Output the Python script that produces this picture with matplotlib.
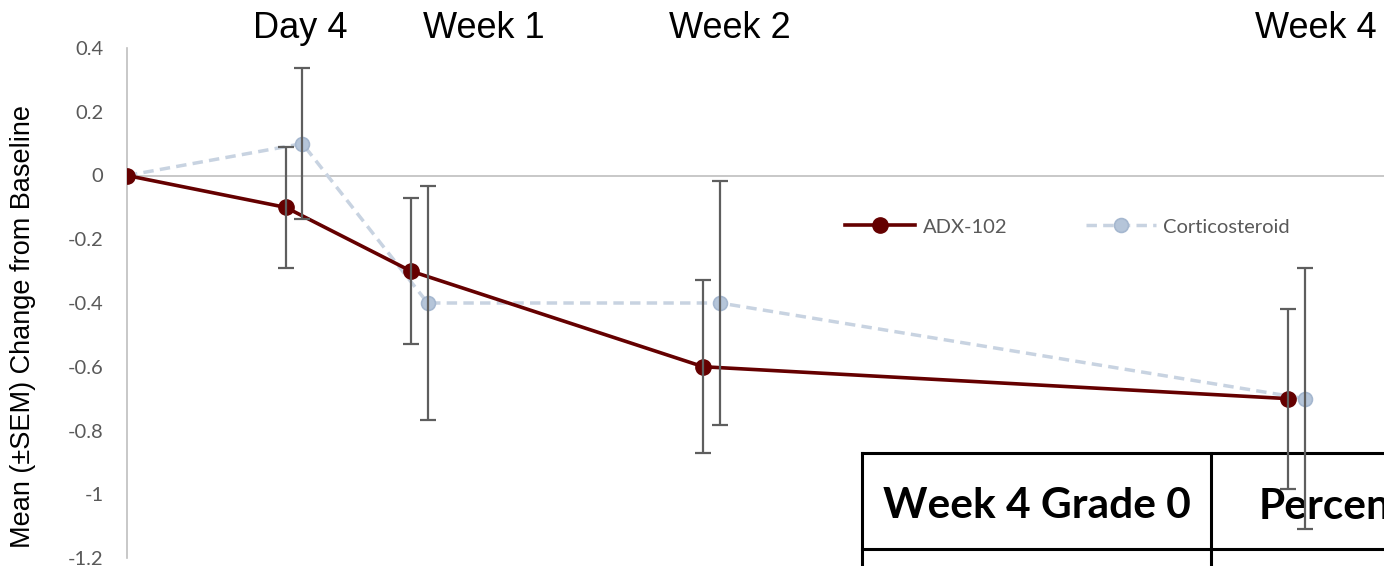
import matplotlib
matplotlib.use('Agg')
import matplotlib.pyplot as plt
import matplotlib.transforms as mtransforms
import numpy as np
from matplotlib.lines import Line2D

# ---- data ----
visit_labels = ['Day 4', 'Week 1', 'Week 2', 'Week 4']
visit_label_days = [4.14, 8.55, 14.44, 28.47]
days = np.array([0, 4, 7, 14, 28], dtype=float)
adx_mean = [0, -0.1, -0.3, -0.6, -0.7]
adx_sem = [0, 0.19, 0.228, 0.272, 0.282]
cort_mean = [0, 0.1, -0.4, -0.4, -0.7]
cort_sem = [0, 0.237, 0.367, 0.384, 0.41]
series_names = ['ADX-102', 'Corticosteroid']
yticks = [0.4, 0.2, 0, -0.2, -0.4, -0.6, -0.8, -1.0, -1.2]
ytick_labels = ['0.4', '0.2', '0', '-0.2', '-0.4', '-0.6', '-0.8', '-1', '-1.2']
table_headers = ['Week 4 Grade 0', 'Percentage']

# ---- layout ----
W, H = 1384, 566
fig = plt.figure(figsize=(W / 100, H / 100), dpi=100)
ax = fig.add_axes([127 / W, 8 / H, 1 - 127 / W, 510 / H])

offset = 0.2
adx_x = days - offset * (days > 0)
cort_x = days + offset * (days > 0)

red = '#650000'
blue_line = '#C8D3E1'
grey_err = '#5E5E5E'
axis_grey = '#BFBFBF'

ax.axhline(0, color=axis_grey, lw=1.2, zorder=1)

# corticosteroid
h_cort, = ax.plot(cort_x, cort_mean, color=blue_line, lw=2.5, dashes=(3.0, 1.8),
                  marker='o', markersize=10, markerfacecolor='#B5C5D9',
                  markeredgecolor='#A5B7CF', markeredgewidth=1.2, zorder=3,
                  label=series_names[1])
# ADX-102
h_adx, = ax.plot(adx_x, adx_mean, color=red, lw=2.6, marker='o', markersize=11,
                 markerfacecolor=red, markeredgecolor=red, zorder=4,
                 label=series_names[0])

# error bars (skip baseline)
ax.errorbar(adx_x[1:], adx_mean[1:], yerr=adx_sem[1:], fmt='none',
            ecolor=grey_err, elinewidth=1.6, capsize=5.5, capthick=1.6, zorder=5)
ax.errorbar(cort_x[1:], cort_mean[1:], yerr=cort_sem[1:], fmt='none',
            ecolor=grey_err, elinewidth=1.6, capsize=5.5, capthick=1.6, zorder=5)

ax.set_xlim(0, 30.1)
ax.set_ylim(-1.2, 0.4)
ax.set_yticks(yticks)
ax.set_yticklabels(ytick_labels)
ax.set_xticks([])
for s in ['top', 'right', 'bottom']:
    ax.spines[s].set_visible(False)
ax.spines['left'].set_color(axis_grey)
ax.spines['left'].set_linewidth(1.2)
ax.tick_params(axis='y', length=0, pad=17, labelsize=14.5, labelcolor='#595959')
for t in ax.get_yticklabels():
    t.set_fontfamily('Lato')
ax.patch.set_alpha(0)

# top visit labels
blend = mtransforms.blended_transform_factory(ax.transData, fig.transFigure)
for lab, d in zip(visit_labels, visit_label_days):
    ax.text(d, (H - 38) / H, lab, transform=blend,
            ha='center', va='baseline', fontsize=26, family='Liberation Sans',
            color='black', clip_on=False)

# y label
fig.text(23 / W, (H - 327) / H, 'Mean (\u00b1SEM) Change from Baseline',
         rotation=90, ha='center', va='center', fontsize=19.5,
         family='Liberation Sans', color='black')

# legend
leg = ax.legend(handles=[h_adx, h_cort], labels=series_names,
                loc='center left', bbox_to_anchor=(845 / W, (H - 227) / H),
                bbox_transform=fig.transFigure, ncol=2, frameon=False,
                borderpad=0, borderaxespad=0, handlelength=3.5,
                handletextpad=0.35, columnspacing=3.9,
                prop={'family': 'Lato', 'size': 14.5})
for t in leg.get_texts():
    t.set_color('#595959')

# table (cropped) in figure coordinates
tlw = 2.2
def fline(xs, ys):
    ax.add_line(Line2D([x / W for x in xs], [(H - y) / H for y in ys],
                       transform=fig.transFigure, color='black', lw=tlw,
                       clip_on=False, zorder=2, solid_capstyle='projecting'))
fline([862, 1400], [453, 453])
fline([862, 1400], [549, 549])
fline([862, 862], [453, 580])
fline([1211, 1211], [453, 580])
ax.text(1037 / W, (H - 518) / H, table_headers[0], transform=fig.transFigure,
        ha='center', va='baseline', fontsize=30.5, family='Lato',
        weight='bold', color='black', zorder=2, clip_on=False)
ax.text(1259 / W, (H - 518) / H, table_headers[1], transform=fig.transFigure,
        ha='left', va='baseline', fontsize=30.5, family='Lato',
        weight='bold', color='black', zorder=2, clip_on=True)

fig.savefig('out.png', dpi=100)
